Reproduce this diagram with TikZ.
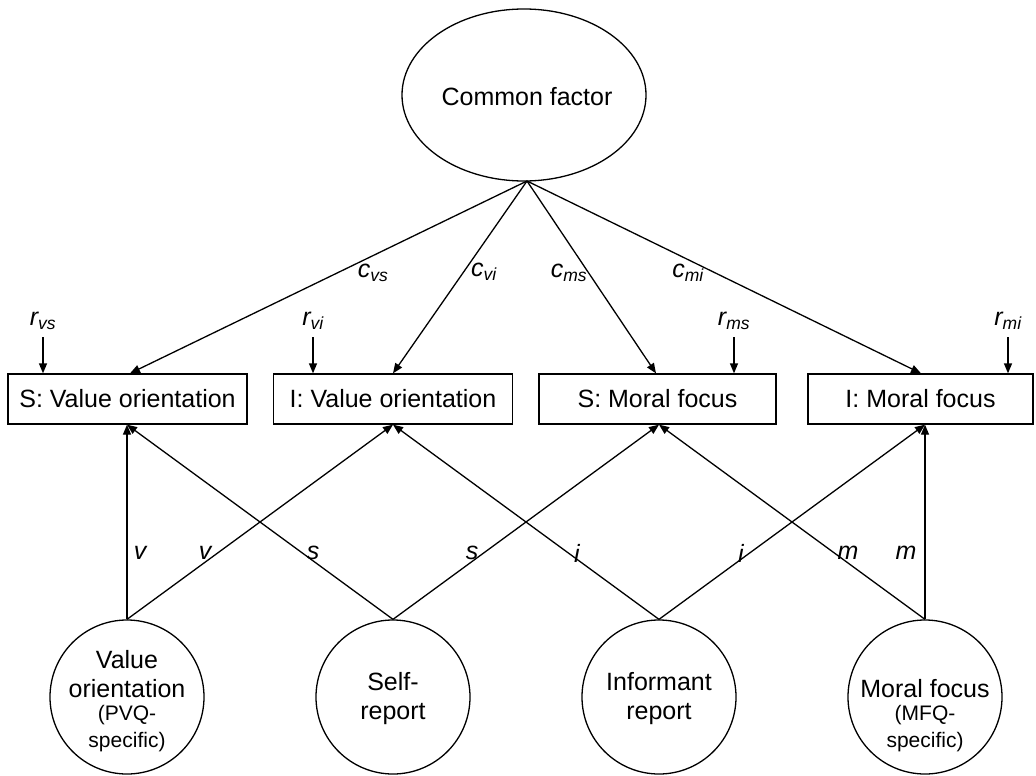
\documentclass[tikz,border=0pt]{standalone}
\usepackage{fontspec}
\setmainfont{Liberation Sans}
\usetikzlibrary{shapes.geometric,arrows.meta}
\newcommand\coef[2]{\textit{#1}\textsubscript{\textit{#2}}}
\begin{document}
\begin{tikzpicture}[x=1pt,y=-1pt,
  font=\fontsize{25}{29}\selectfont,
  box/.style={draw, line width=1.3pt, minimum height=50pt, minimum width=#1, inner sep=0pt},
  latent/.style={draw, circle, line width=1.3pt, minimum size=154pt, inner sep=0pt},
  ltext/.style={align=center, inner sep=0pt},
  small/.style={font=\fontsize{21}{27}\selectfont},
  arr/.style={-{Triangle[length=10pt,width=8pt]}, line width=1.3pt},
  lbl/.style={inner sep=0pt, font=\fontsize{25}{29}\selectfont\itshape}]
\useasboundingbox (0,0) rectangle (1036,776);
% common factor
\node[draw, ellipse, line width=1.3pt, minimum width=244pt, minimum height=172pt, inner sep=0pt] (cf) at (524,95) {};
\node[inner sep=0pt] (cft) at (527,97) {Common factor};
\coordinate (apex) at (527,181);
% observed scores
\node[box=239pt] (b1) at (127.5,399) {S: Value orientation};
\node[box=239pt] (b2) at (393,399) {I: Value orientation};
\node[box=237pt] (b3) at (657.5,399) {S: Moral focus};
\node[box=225pt] (b4) at (920.5,399) {I: Moral focus};
% latent factors
\node[latent] (l1) at (127,697) {};
\node[latent] (l2) at (393,697) {};
\node[latent] (l3) at (659,697) {};
\node[latent] (l4) at (925,697) {};
\node[ltext] (t1a) at (127,674.5) {Value\\orientation};
\node[ltext, small] (t1b) at (127,728.5) {(PVQ-\\specific)};
\node[ltext] (t2) at (393,699) {Self-\\report};
\node[ltext] (t3) at (659,699) {Informant\\report};
\node[ltext] (t4a) at (925,689) {Moral focus};
\node[ltext, small] (t4b) at (925,728.5) {(MFQ-\\specific)};
% loadings on the common factor
\draw[arr] (apex) -- (b1.north -| 130,0);
\draw[arr] (apex) -- (b2.north -| l2);
\draw[arr] (apex) -- (b3.north -| 656,0);
\draw[arr] (apex) -- (b4.north -| 921,0);
\node[lbl] (cvs) at (373,273) {\coef{c}{vs}};
\node[lbl] (cvi) at (484,272) {\coef{c}{vi}};
\node[lbl] (cms) at (569,273) {\coef{c}{ms}};
\node[lbl] (cmi) at (688,273) {\coef{c}{mi}};
% residuals
\foreach \b/\x/\t in {b1/43/vs, b2/313/vi, b3/734/ms, b4/1008/mi}{
  \coordinate (r\b) at (\x,337);
  \node[lbl] (rl\b) at (\x,321) {\coef{r}{\t}};
  \draw[arr] (r\b) -- (\b.north -| r\b);
}
% loadings of the trait and method factors
\draw[arr] (l1.north) -- (b1.south -| l1);
\draw[arr] (l1.north) -- (b2.south -| l2);
\draw[arr] (l2.north) -- (b1.south -| l1);
\draw[arr] (l2.north) -- (b3.south -| l3);
\draw[arr] (l3.north) -- (b2.south -| l2);
\draw[arr] (l3.north) -- (b4.south -| l4);
\draw[arr] (l4.north) -- (b3.south -| l3);
\draw[arr] (l4.north) -- (b4.south -| l4);
\node[lbl] at (140,553) {v};
\node[lbl] at (205,553) {v};
\node[lbl] at (313,553) {s};
\node[lbl] at (472,553) {s};
\node[lbl] at (577,553) {i};
\node[lbl] at (741,553) {i};
\node[lbl] at (848,553) {m};
\node[lbl] at (906,553) {m};
\end{tikzpicture}
\end{document}
